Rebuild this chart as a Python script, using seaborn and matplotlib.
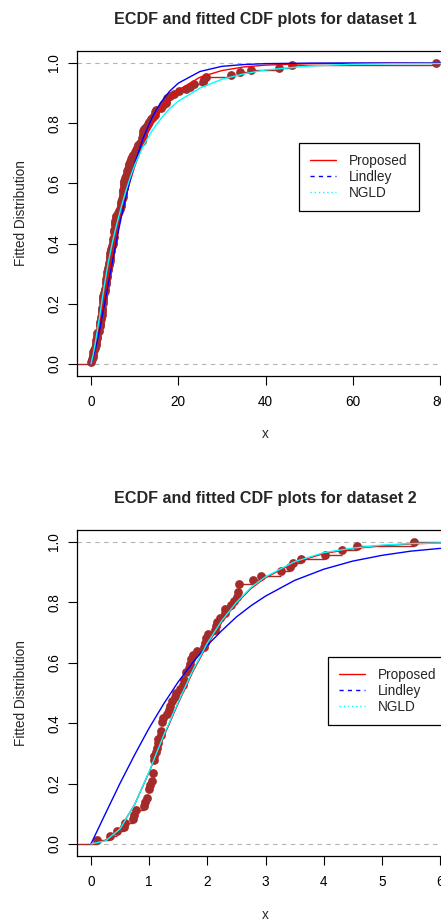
import numpy as np
import pandas as pd
import seaborn as sns
import matplotlib
matplotlib.use("Agg")
import matplotlib.pyplot as plt
from matplotlib.lines import Line2D

sns.set_theme(style="ticks")
plt.rcParams["font.family"] = ["Liberation Sans", "DejaVu Sans"]

# --- Dane: zbiór 1 (czasy remisji, n=128) ---
data1 = [0.08, 2.09, 3.48, 4.87, 6.94, 8.66, 13.11, 23.63, 0.20, 2.23, 3.52, 4.98, 6.97, 9.02,
         13.29, 0.40, 2.26, 3.57, 5.06, 7.09, 9.22, 13.80, 25.74, 0.50, 2.46, 3.64, 5.09, 7.26,
         9.47, 14.24, 25.82, 0.51, 2.54, 3.70, 5.17, 7.28, 9.74, 14.76, 26.31, 0.81, 2.62, 3.82,
         5.32, 7.32, 10.06, 14.77, 32.15, 2.64, 3.88, 5.32, 7.39, 10.34, 14.83, 34.26, 0.90, 2.69,
         4.18, 5.34, 7.59, 10.66, 15.96, 36.66, 1.05, 2.69, 4.23, 5.41, 7.62, 10.75, 16.62, 43.01,
         1.19, 2.75, 4.26, 5.41, 7.63, 17.12, 46.12, 1.26, 2.83, 4.33, 5.49, 7.66, 11.25, 17.14,
         79.05, 1.35, 2.87, 5.62, 7.87, 11.64, 17.36, 1.40, 3.02, 4.34, 5.71, 7.93, 11.79, 18.10,
         1.46, 4.40, 5.85, 8.26, 11.98, 19.13, 1.76, 3.25, 4.50, 6.25, 8.37, 12.02, 2.02, 3.31,
         4.51, 6.54, 8.53, 12.03, 20.28, 2.02, 3.36, 6.76, 12.07, 21.73, 2.07, 3.36, 6.93, 8.65,
         12.63, 22.69]

# --- Dane: zbiór 2 (n=72) ---
data2 = [0.10, 0.33, 0.44, 0.56, 0.59, 0.72, 0.74, 0.77, 0.92, 0.93, 0.96, 1.00, 1.00, 1.02,
         1.05, 1.07, 1.07, 1.08, 1.08, 1.08, 1.09, 1.12, 1.13, 1.15, 1.16, 1.20, 1.21, 1.22,
         1.22, 1.24, 1.30, 1.34, 1.36, 1.39, 1.44, 1.46, 1.53, 1.59, 1.60, 1.63, 1.63, 1.68,
         1.71, 1.72, 1.76, 1.83, 1.95, 1.96, 1.97, 2.02, 2.13, 2.15, 2.16, 2.22, 2.30, 2.31,
         2.40, 2.45, 2.51, 2.53, 2.54, 2.54, 2.78, 2.93, 3.27, 3.42, 3.47, 3.61, 4.02, 4.32,
         4.58, 5.55]

# --- Dopasowane dystrybuanty ---
grid1 = [0, 0.5, 1, 1.5, 2, 3, 4, 5, 6, 7, 8, 9, 10, 12, 14, 16, 18, 20, 25, 30, 35, 40, 50,
         60, 70, 85]
proposed1 = [0, 0.025, 0.058, 0.092, 0.13, 0.21, 0.29, 0.365, 0.435, 0.5, 0.557, 0.608, 0.655,
             0.735, 0.797, 0.845, 0.882, 0.91, 0.953, 0.975, 0.987, 0.993, 0.998, 0.999, 1.0, 1.0]
lindley1 = [0, 0.022, 0.049, 0.080, 0.115, 0.190, 0.269, 0.346, 0.421, 0.491, 0.555, 0.613,
            0.665, 0.752, 0.819, 0.869, 0.906, 0.933, 0.972, 0.989, 0.995, 0.998, 0.9997, 1.0,
            1.0, 1.0]
ngld1 = [0, 0.03, 0.07, 0.115, 0.16, 0.255, 0.34, 0.41, 0.47, 0.525, 0.575, 0.62, 0.66, 0.725,
         0.775, 0.815, 0.848, 0.873, 0.917, 0.946, 0.964, 0.977, 0.99, 0.996, 0.998, 0.999]

grid2 = [0, 0.25, 0.5, 0.75, 1.0, 1.25, 1.5, 1.75, 2.0, 2.25, 2.5, 2.75, 3.0, 3.5, 4.0, 4.5,
         5.0, 5.5, 6.0, 6.5]
proposed2 = [0, 0.012, 0.052, 0.13, 0.238, 0.355, 0.466, 0.57, 0.66, 0.737, 0.797, 0.846,
             0.882, 0.932, 0.962, 0.978, 0.988, 0.994, 0.997, 0.998]
lindley2 = [0, 0.101, 0.201, 0.295, 0.384, 0.464, 0.537, 0.601, 0.658, 0.707, 0.752, 0.789,
            0.821, 0.873, 0.910, 0.937, 0.956, 0.970, 0.979, 0.986]
ngld2 = [0, 0.01, 0.05, 0.13, 0.24, 0.36, 0.47, 0.575, 0.665, 0.74, 0.80, 0.85, 0.885, 0.935,
         0.965, 0.98, 0.99, 0.995, 0.997, 0.999]

BROWN = "#A52A2A"
W, H = 441, 921
FS = 9.8


def draw_panel(ax, obs, grid, prop, lind, ngld, xlim, xticks, title, leg_xy):
    obs = np.sort(np.asarray(obs))
    knots, counts = np.unique(obs, return_counts=True)
    ecdf = np.cumsum(counts) / len(obs)

    ax.axhline(0, color="#B3B3B3", lw=0.8, ls=(0, (4, 4)), zorder=1)
    ax.axhline(1, color="#B3B3B3", lw=0.8, ls=(0, (4, 4)), zorder=1)

    # schodki ECDF (bez pionowych odcinków, jak w plot.ecdf)
    span = xlim[1] - xlim[0]
    ax.hlines(np.r_[0, ecdf], np.r_[xlim[0] - span, knots], np.r_[knots, xlim[1] + span],
              color=BROWN, lw=1, zorder=2)
    sns.scatterplot(x=knots, y=ecdf, ax=ax, color=BROWN, s=40, linewidth=0, zorder=3)

    curves = pd.DataFrame({"x": grid, "Proposed": prop, "Lindley": lind, "NGLD": ngld})
    curves = curves.melt(id_vars="x", var_name="model", value_name="F")
    sns.lineplot(data=curves, x="x", y="F", hue="model", ax=ax,
                 palette={"Proposed": "red", "Lindley": "blue", "NGLD": "cyan"},
                 lw=1, legend=False, estimator=None, sort=False, zorder=4)

    ax.set_xlim(*xlim)
    ax.set_ylim(-0.04, 1.04)
    ax.set_xticks(xticks)
    ax.set_xticklabels([str(t) for t in xticks], fontsize=FS)
    yt = [0, 0.2, 0.4, 0.6, 0.8, 1.0]
    ax.set_yticks(yt)
    ax.set_yticklabels([f"{t:.1f}" for t in yt], fontsize=FS, rotation=90, va="center")
    ax.tick_params(axis="both", direction="out", length=6.5, width=0.8, color="black",
                   labelcolor="black")
    ax.tick_params(axis="x", pad=7.5)
    ax.tick_params(axis="y", pad=5)
    for sp in ax.spines.values():
        sp.set_color("black")
        sp.set_linewidth(0.9)

    ax.set_title(title, fontsize=11.6, fontweight="bold", pad=19.5)
    ax.set_xlabel("x", fontsize=FS)
    ax.set_ylabel("Fitted Distribution", fontsize=FS)
    ax.xaxis.set_label_coords(0.5, -0.158)
    ax.yaxis.set_label_coords(-0.13, 0.5)

    handles = [Line2D([], [], color="red", lw=1),
               Line2D([], [], color="blue", lw=1, ls=(0, (3, 3))),
               Line2D([], [], color="cyan", lw=1, ls=(0, (1, 2)))]
    leg = ax.legend(handles, ["Proposed", "Lindley", "NGLD"], loc="upper left",
                    bbox_to_anchor=(leg_xy[0] / W, 1 - leg_xy[1] / H),
                    bbox_transform=ax.figure.transFigure, borderaxespad=0,
                    fontsize=FS, frameon=True, fancybox=False, framealpha=1,
                    handlelength=1.9, handletextpad=1.0, labelspacing=0.15, borderpad=0.8)
    leg.get_frame().set_edgecolor("black")
    leg.get_frame().set_linewidth(0.9)


fig = plt.figure(figsize=(W / 100, H / 100), dpi=100)
ax1 = fig.add_axes([77 / W, (H - 376) / H, (454 - 77) / W, 325 / H])
ax2 = fig.add_axes([77 / W, (H - 856) / H, (454 - 77) / W, 326 / H])

draw_panel(ax1, data1, grid1, proposed1, lindley1, ngld1, (-3.2, 83.2), [0, 20, 40, 60, 80],
           "ECDF and fitted CDF plots for dataset 1", (299, 143))
draw_panel(ax2, data2, grid2, proposed2, lindley2, ngld2, (-0.24, 6.24), [0, 1, 2, 3, 4, 5, 6],
           "ECDF and fitted CDF plots for dataset 2", (328, 657))

fig.savefig("out.png", dpi=100)
plt.close(fig)
